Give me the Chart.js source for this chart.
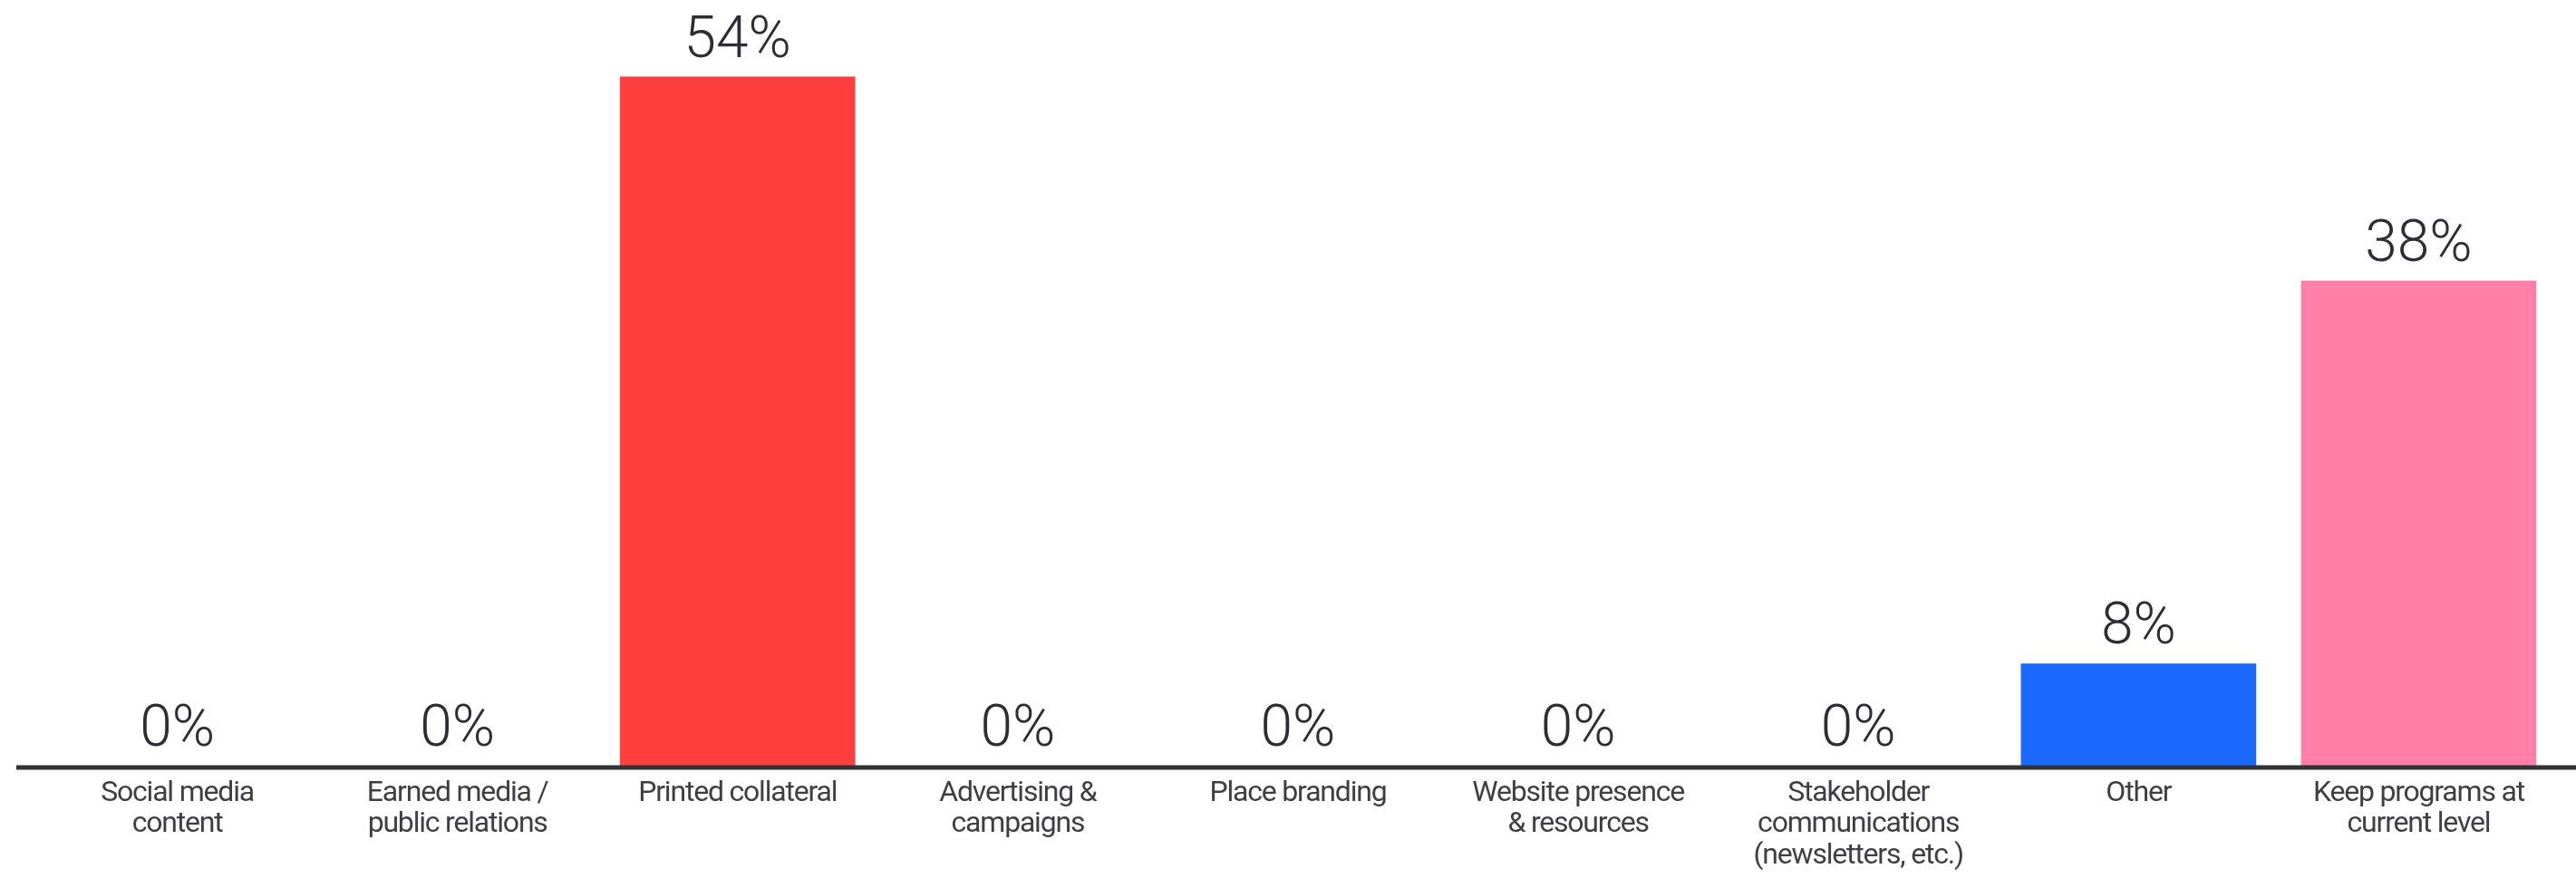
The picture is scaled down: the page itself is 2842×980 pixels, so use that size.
<!DOCTYPE html>
<html lang="en">

<head>
    <meta charset="UTF-8">
    <title>Survey results</title>
    <script src="https://cdn.jsdelivr.net/npm/chart.js"></script>
    <style>
        html, body {
            margin: 0;
            padding: 0;
            background: #ffffff;
        }

        .chart-wrap {
            position: relative;
            width: 2842px;
            height: 980px;
        }
    </style>
</head>

<body>
    <div class="chart-wrap">
        <canvas id="programsChart"></canvas>
    </div>

    <script>
        // Categories (multi-line labels) and their share of responses
        var categories = [
            ['Social media', 'content'],
            ['Earned media /', 'public relations'],
            ['Printed collateral'],
            ['Advertising &', 'campaigns'],
            ['Place branding'],
            ['Website presence', '& resources'],
            ['Stakeholder', 'communications', '(newsletters, etc.)'],
            ['Other'],
            ['Keep programs at', 'current level']
        ];
        var percentages = [0, 0, 54, 0, 0, 0, 0, 8, 38];
        var barColors = ['#ff3e3e', '#ff3e3e', '#ff3e3e', '#ff3e3e', '#ff3e3e', '#ff3e3e', '#ff3e3e', '#1b69ff', '#ff7fa8'];

        // Value labels above each bar
        var valueLabels = {
            id: 'valueLabels',
            afterDatasetsDraw: function (chart) {
                var ctx = chart.ctx;
                var meta = chart.getDatasetMeta(0);
                ctx.save();
                ctx.letterSpacing = '0px';
                ctx.font = '300 64px Roboto';
                ctx.fillStyle = '#2b2e34';
                ctx.textAlign = 'center';
                ctx.textBaseline = 'alphabetic';
                meta.data.forEach(function (bar, i) {
                    ctx.fillText(percentages[i] + '%', bar.x, bar.y - 22);
                });
                ctx.restore();
            }
        };

        // Thick baseline running past the plot area on both sides
        var baseline = {
            id: 'baseline',
            afterDatasetsDraw: function (chart) {
                var ctx = chart.ctx;
                var y = chart.scales.y.getPixelForValue(0) + 2;
                ctx.save();
                ctx.strokeStyle = '#2f3237';
                ctx.lineWidth = 5;
                ctx.beginPath();
                ctx.moveTo(chart.chartArea.left - 23, y);
                ctx.lineTo(chart.width, y);
                ctx.stroke();
                ctx.restore();
            },
            beforeDraw: function (chart) {
                // tighter tracking for the category labels
                chart.ctx.letterSpacing = '-1.2px';
            }
        };

        var ctx = document.getElementById('programsChart').getContext('2d');
        var programsChart = new Chart(ctx, {
            type: 'bar',
            data: {
                labels: categories,
                datasets: [{
                    data: percentages,
                    backgroundColor: barColors,
                    borderWidth: 0,
                    categoryPercentage: 1,
                    barPercentage: 0.84
                }]
            },
            options: {
                responsive: true,
                maintainAspectRatio: false,
                animation: false,
                layout: {
                    padding: { left: 41, right: 19, top: 0, bottom: 0 }
                },
                plugins: {
                    legend: { display: false },
                    tooltip: { enabled: false }
                },
                scales: {
                    x: {
                        grid: { display: false, drawTicks: false },
                        border: { display: false },
                        ticks: {
                            padding: 14,
                            maxRotation: 0,
                            autoSkip: false,
                            color: '#3e3f44',
                            font: { family: 'Roboto', size: 32, lineHeight: 1.07 }
                        },
                        afterFit: function (scale) {
                            scale.height = 135;
                        }
                    },
                    y: {
                        display: false,
                        min: 0,
                        max: 60
                    }
                }
            },
            plugins: [baseline, valueLabels]
        });
    </script>
</body>

</html>
